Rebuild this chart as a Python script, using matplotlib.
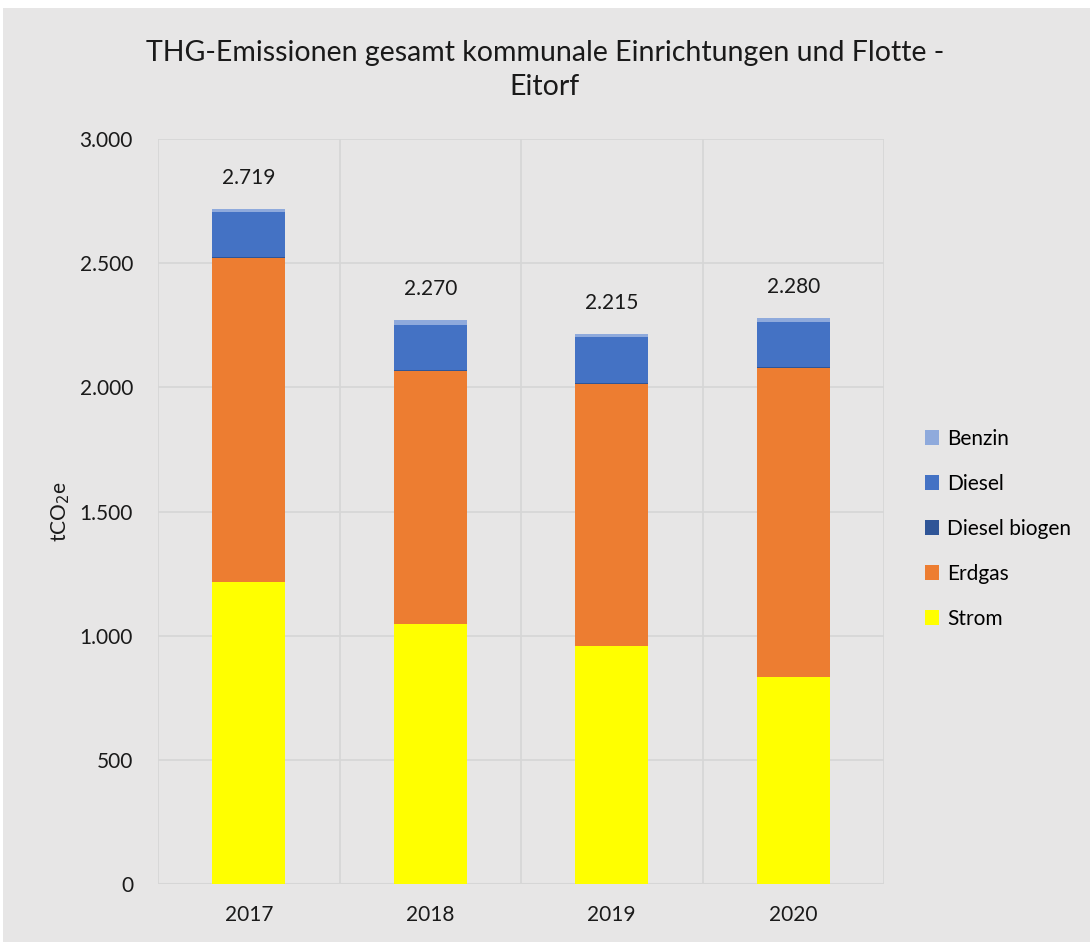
import matplotlib
matplotlib.use("Agg")
import matplotlib.pyplot as plt
from matplotlib.patches import Rectangle
import numpy as np

years = ["2017", "2018", "2019", "2020"]
strom = [1215, 1045, 957, 832]
erdgas = [1305, 1022, 1058, 1246]
diesel_biogen = [5, 4, 4, 5]
diesel = [180, 182, 183, 182]
benzin = [14, 17, 13, 15]
totals = [2719, 2270, 2215, 2280]
total_labels = ["2.719", "2.270", "2.215", "2.280"]
yticks = [0, 500, 1000, 1500, 2000, 2500, 3000]
ytick_labels = ["0", "500", "1.000", "1.500", "2.000", "2.500", "3.000"]

plt.rcParams['font.family'] = ['Lato', 'DejaVu Sans']
BG = '#e7e6e6'
GRID = '#d6d6d6'
FS = 15

fig = plt.figure(figsize=(10.9, 9.42), dpi=100, facecolor='white')
fig.patches.append(Rectangle((3/1090, 0), 1 - 3/1090, 1 - 8/942, transform=fig.transFigure,
                             facecolor=BG, edgecolor='none', zorder=-10))
ax = fig.add_axes([158/1090, 58/942, (884-158)/1090, (884-139)/942])
ax.set_facecolor(BG)

x = np.arange(len(years))
w = 0.4
series = [
    ("Strom", strom, '#ffff00'),
    ("Erdgas", erdgas, '#ed7d31'),
    ("Diesel biogen", diesel_biogen, '#2f5597'),
    ("Diesel", diesel, '#4472c4'),
    ("Benzin", benzin, '#8faadc'),
]
bottom = np.zeros(len(years))
handles = []
for name, vals, col in series:
    b = ax.bar(x, vals, w, bottom=bottom, color=col, label=name, zorder=3)
    handles.append(b)
    bottom += np.array(vals)

for xi, t, lab in zip(x, totals, total_labels):
    ax.text(xi, t + 125, lab, ha='center', va='center', fontsize=FS, color='#1a1a1a')

ax.set_xlim(-0.5, len(years) - 0.5)
ax.set_ylim(0, 3000)
ax.set_yticks(yticks)
ax.set_yticklabels(ytick_labels, fontsize=FS)
ax.set_xticks(x)
ax.set_xticklabels(years, fontsize=FS)
ax.set_xticks(np.arange(len(years) + 1) - 0.5, minor=True)
ax.grid(axis='y', color=GRID, linewidth=1.2, zorder=0)
ax.grid(axis='x', which='minor', color=GRID, linewidth=1.2, zorder=0)
ax.tick_params(axis='both', which='both', length=0, colors='#1a1a1a')
ax.tick_params(axis='y', pad=18)
ax.tick_params(axis='x', pad=15)
for s in ax.spines.values():
    s.set_visible(False)
ax.axhline(0, color=GRID, linewidth=1.5, zorder=2)

ax.set_ylabel("tCO$_2$e", fontsize=FS, color='#1a1a1a')
ax.yaxis.set_label_coords((72 - 158) / 726, 0.5)

fig.text(0.5, 1 - 70/942, "THG-Emissionen gesamt kommunale Einrichtungen und Flotte -\nEitorf",
         ha='center', va='center', fontsize=20.5, color='#1a1a1a', linespacing=1.4)

leg = ax.legend(handles[::-1], [s[0] for s in series][::-1], loc='center left',
                bbox_to_anchor=(1.03, 0.477), frameon=False, fontsize=FS,
                handlelength=0.7, handleheight=0.7, handletextpad=0.4, labelspacing=1.2)

fig.savefig("out.png", dpi=100, facecolor='white')
